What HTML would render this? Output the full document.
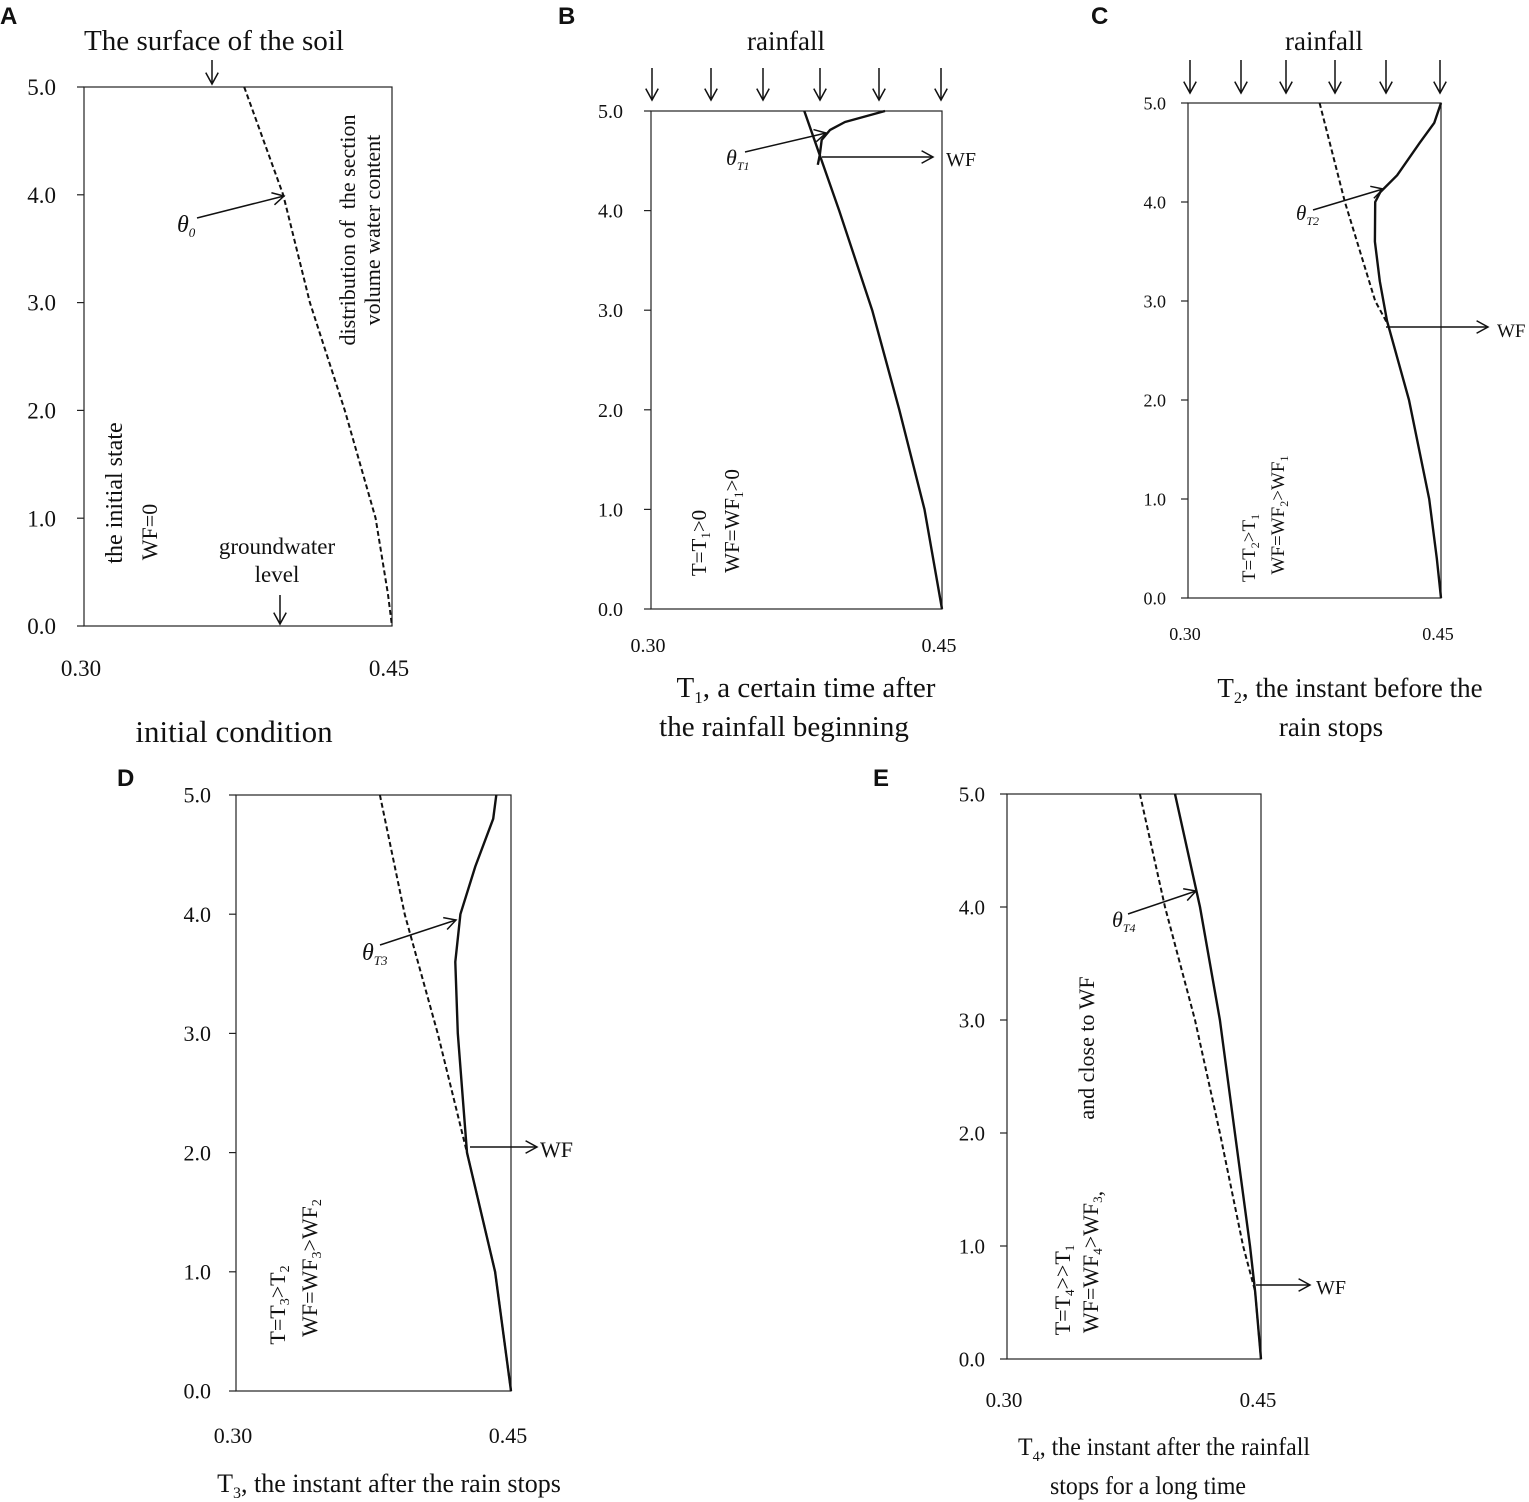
<!DOCTYPE html>
<html><head><meta charset="utf-8"><style>
body{margin:0;background:#fff}
svg{display:block}
text{font-family:"Liberation Serif",serif;fill:#111}
.lab{font-family:"Liberation Sans",sans-serif;font-weight:bold;font-size:24px}
</style></head><body>
<svg id="fig" width="1529" height="1502" viewBox="0 0 1529 1502"></svg>
<script>
// depth values (m) and volumetric water content values
const depthInitA = [5.0, 4.0, 3.0, 2.0, 1.0, 0.3, 0.0];
const thetaInitA = [0.378, 0.397, 0.410, 0.427, 0.442, 0.448, 0.450];
const depthInitB = [5.0, 4.0, 3.0, 2.0, 1.0, 0.0];
const thetaInitB = [0.379, 0.397, 0.414, 0.428, 0.441, 0.450];
const depthWetB = [5.0, 4.89, 4.81, 4.71, 4.56, 4.46];
const thetaWetB = [0.4206, 0.400, 0.3923, 0.388, 0.387, 0.386];
const depthInitC = [5.0, 4.0, 3.0, 2.78];
const thetaInitC = [0.378, 0.393, 0.411, 0.418];
const depthWetC = [5.0, 4.8, 4.6, 4.27, 4.1, 4.0, 3.6, 3.2, 2.8, 2.0, 1.0, 0.4, 0.0];
const thetaWetC = [0.450, 0.446, 0.4375, 0.424, 0.414, 0.411, 0.4108, 0.4137, 0.418, 0.431, 0.443, 0.4475, 0.450];
const depthInitD = [5.0, 4.0, 3.0, 2.0, 1.0, 0.0];
const thetaInitD = [0.3785, 0.392, 0.410, 0.426, 0.4413, 0.450];
const depthWetD = [5.0, 4.8, 4.4, 4.0, 3.6, 3.0, 2.4, 2.0, 1.0, 0.0];
const thetaWetD = [0.442, 0.4403, 0.4305, 0.4224, 0.4196, 0.421, 0.424, 0.426, 0.4413, 0.450];
const depthInitE = [5.0, 4.0, 3.0, 2.0, 1.0, 0.6, 0.0];
const thetaInitE = [0.3785, 0.3933, 0.411, 0.4257, 0.4394, 0.4465, 0.450];
const depthWetE = [5.0, 4.0, 3.0, 2.0, 1.0, 0.6, 0.0];
const thetaWetE = [0.3992, 0.414, 0.4257, 0.4346, 0.4435, 0.4465, 0.450];
const yTicks = [0, 1, 2, 3, 4, 5];
const xTickLabels = ["0.30", "0.45"];

const NS = "http://www.w3.org/2000/svg";
const svg = document.getElementById("fig");
function mk(tag, attrs, parent) {
  const e = document.createElementNS(NS, tag);
  for (const k in attrs) e.setAttribute(k, attrs[k]);
  (parent || svg).appendChild(e);
  return e;
}
function txt(x, y, s, size, parent, extra) {
  const t = mk("text", Object.assign({x: x, y: y, "font-size": size}, extra || {}), parent);
  t.innerHTML = s;
  return t;
}
function arrow(x1, y1, x2, y2, parent) {
  const g = mk("g", {}, parent);
  
  
  mk("line", {x1: x1, y1: y1, x2: x2, y2: y2, stroke: "#111", "stroke-width": 1.5}, g);
  const a = Math.atan2(y2 - y1, x2 - x1), L = 13, s = 0.5;
  const p = (ang) => (x2 - L * Math.cos(ang)) + "," + (y2 - L * Math.sin(ang));
  mk("polyline", {points: p(a - s) + " " + x2 + "," + y2 + " " + p(a + s), fill: "none", stroke: "#111", "stroke-width": 1.5}, g);
}

function panel(cfg) {
  const g = mk("g", {});
  
  
  const xs = v => cfg.x0 + (v - 0.30) / 0.15 * (cfg.x1 - cfg.x0);
  const ys = d => cfg.y1 - d / 5 * (cfg.y1 - cfg.y0);
  const box = mk("rect", {x: cfg.x0, y: cfg.y0, width: cfg.x1 - cfg.x0, height: cfg.y1 - cfg.y0, fill: "none", stroke: "#222", "stroke-width": 1.2}, g);
  
  
  yTicks.forEach(t => {
    const y = ys(t);
    mk("line", {x1: cfg.x0 - 7, x2: cfg.x0, y1: y, y2: y, stroke: "#222", "stroke-width": 1.2}, g);
    const tl = txt(cfg.x0 - cfg.lblOff, y + cfg.fs * 0.35, t.toFixed(1), cfg.fs, g, {"text-anchor": "end"});
    
    
  });
  [0.30, 0.45].forEach((v, i) => {
    const xl = txt(xs(v) - 3, cfg.y1 + cfg.xOff, xTickLabels[i], cfg.fs, g, {"text-anchor": "middle"});
    
    
  });
  cfg.series.forEach(s => {
    const pts = s.d.map((d, i) => xs(s.t[i]).toFixed(1) + "," + ys(d).toFixed(1)).join(" ");
    const pl = mk("polyline", {points: pts, fill: "none", stroke: "#111", "stroke-width": s.dash ? 2 : 2.4, "stroke-dasharray": s.dash ? "5,3" : "none", "stroke-linejoin": "round"}, g);
    
    
  });
  return g;
}

const gA = panel({name: "panel-a", x0: 84, x1: 392, y0: 87, y1: 626, fs: 23, lblOff: 28, xOff: 50,
  series: [{name: "initial-water-content-curve", d: depthInitA, t: thetaInitA, dash: true}]});
const gB = panel({name: "panel-b", x0: 651, x1: 942, y0: 111, y1: 609, fs: 20, lblOff: 28, xOff: 43,
  series: [{name: "initial-water-content-curve", d: depthInitB, t: thetaInitB, dash: false},
           {name: "wetting-curve-t1", d: depthWetB, t: thetaWetB, dash: false}]});
const gC = panel({name: "panel-c", x0: 1188, x1: 1441, y0: 103, y1: 598, fs: 18, lblOff: 22, xOff: 42,
  series: [{name: "initial-water-content-curve", d: depthInitC, t: thetaInitC, dash: true},
           {name: "wetting-curve-t2", d: depthWetC, t: thetaWetC, dash: false}]});
const gD = panel({name: "panel-d", x0: 236, x1: 511, y0: 795, y1: 1391, fs: 22, lblOff: 25, xOff: 52,
  series: [{name: "initial-water-content-curve", d: depthInitD, t: thetaInitD, dash: true},
           {name: "wetting-curve-t3", d: depthWetD, t: thetaWetD, dash: false}]});
const gE = panel({name: "panel-e", x0: 1007, x1: 1261, y0: 794, y1: 1359, fs: 21, lblOff: 22, xOff: 48,
  series: [{name: "initial-water-content-curve", d: depthInitE, t: thetaInitE, dash: true},
           {name: "wetting-curve-t4", d: depthWetE, t: thetaWetE, dash: false}]});

// panel letters
[["A", 0, 24], ["B", 558, 24], ["C", 1091, 24], ["D", 117, 786], ["E", 873, 786]].forEach(l => {
  const t = txt(l[1], l[2], l[0], 24, svg, {class: "lab"});
  
  
});

// Panel A annotations
txt(214, 50, "The surface of the soil", 28, gA, {"text-anchor": "middle", textLength: 260, lengthAdjust: "spacingAndGlyphs"});
arrow(212, 60, 212, 84, gA);
txt(177, 232, "θ<tspan font-size='13' dy='5'>0</tspan>", 24, gA, {"font-style": "italic"});
arrow(197, 218, 284, 196, gA);
txt(355, 230, "distribution of&#160;&#160;the section", 22, gA, {"text-anchor": "middle", transform: "rotate(-90 355 230)"});
txt(380, 230, "volume water content", 22, gA, {"text-anchor": "middle", transform: "rotate(-90 380 230)"});
txt(122, 493, "the initial state", 24, gA, {"text-anchor": "middle", transform: "rotate(-90 122 493)"});
txt(157, 532, "WF=0", 22, gA, {"text-anchor": "middle", transform: "rotate(-90 157 532)"});
txt(277, 554, "groundwater", 23, gA, {"text-anchor": "middle"});
txt(277, 582, "level", 23, gA, {"text-anchor": "middle"});
arrow(280, 595, 280, 624, gA);
txt(234, 742, "initial condition", 31, gA, {"text-anchor": "middle"});

// Panel B annotations
txt(786, 50, "rainfall", 27, gB, {"text-anchor": "middle"});
[652, 711, 763, 820, 879, 941].forEach(x => arrow(x, 68, x, 100, gB));
txt(726, 165, "θ<tspan font-size='12' dy='5'>T1</tspan>", 22, gB, {"font-style": "italic"});
arrow(745, 152, 826, 133, gB);
arrow(822, 157, 933, 157, gB);
txt(946, 166, "WF", 20, gB);
txt(706, 543, "T=T<tspan font-size='13' dy='4'>1</tspan><tspan dy='-4'>&gt;0</tspan>", 21, gB, {"text-anchor": "middle", transform: "rotate(-90 706 543)"});
txt(739, 521, "WF=WF<tspan font-size='13' dy='4'>1</tspan><tspan dy='-4'>&gt;0</tspan>", 21, gB, {"text-anchor": "middle", transform: "rotate(-90 739 521)"});
txt(806, 697, "T<tspan font-size='17' dy='6'>1</tspan><tspan dy='-6'>, a certain time after</tspan>", 29, gB, {"text-anchor": "middle"});
txt(784, 736, "the rainfall beginning", 29, gB, {"text-anchor": "middle"});

// Panel C annotations
txt(1324, 50, "rainfall", 27, gC, {"text-anchor": "middle"});
[1190, 1241, 1286, 1335, 1386, 1440].forEach(x => arrow(x, 60, x, 93, gC));
txt(1296, 220, "θ<tspan font-size='12' dy='5'>T2</tspan>", 21, gC, {"font-style": "italic"});
arrow(1313, 210, 1383, 189, gC);
arrow(1386, 327, 1488, 327, gC);
txt(1497, 337, "WF", 19, gC);
txt(1255, 548, "T=T<tspan font-size='12' dy='4'>2</tspan><tspan dy='-4'>&gt;T</tspan><tspan font-size='12' dy='4'>1</tspan>", 19, gC, {"text-anchor": "middle", transform: "rotate(-90 1255 548)"});
txt(1284, 515, "WF=WF<tspan font-size='12' dy='4'>2</tspan><tspan dy='-4'>&gt;WF</tspan><tspan font-size='12' dy='4'>1</tspan>", 19, gC, {"text-anchor": "middle", transform: "rotate(-90 1284 515)"});
txt(1350, 697, "T<tspan font-size='16' dy='6'>2</tspan><tspan dy='-6'>, the instant before the</tspan>", 27, gC, {"text-anchor": "middle"});
txt(1331, 736, "rain stops", 27, gC, {"text-anchor": "middle"});

// Panel D annotations
txt(362, 960, "θ<tspan font-size='13' dy='5'>T3</tspan>", 24, gD, {"font-style": "italic"});
arrow(380, 945, 456, 920, gD);
arrow(470, 1147, 537, 1147, gD);
txt(540, 1157, "WF", 22, gD);
txt(285, 1305, "T=T<tspan font-size='14' dy='4'>3</tspan><tspan dy='-4'>&gt;T</tspan><tspan font-size='14' dy='4'>2</tspan>", 22, gD, {"text-anchor": "middle", transform: "rotate(-90 285 1305)"});
txt(317, 1268, "WF=WF<tspan font-size='14' dy='4'>3</tspan><tspan dy='-4'>&gt;WF</tspan><tspan font-size='14' dy='4'>2</tspan>", 22, gD, {"text-anchor": "middle", transform: "rotate(-90 317 1268)"});
txt(389, 1492, "T<tspan font-size='16' dy='6'>3</tspan><tspan dy='-6'>, the instant after the rain stops</tspan>", 26, gD, {"text-anchor": "middle"});

// Panel E annotations
txt(1112, 927, "θ<tspan font-size='12' dy='5'>T4</tspan>", 22, gE, {"font-style": "italic"});
arrow(1128, 914, 1196, 891, gE);
arrow(1256, 1285, 1310, 1285, gE);
txt(1316, 1294, "WF", 20, gE);
txt(1094, 1048, "and close to WF", 22, gE, {"text-anchor": "middle", transform: "rotate(-90 1094 1048)"});
txt(1070, 1290, "T=T<tspan font-size='13' dy='4'>4</tspan><tspan dy='-4'>&gt;&gt;T</tspan><tspan font-size='13' dy='4'>1</tspan>", 22, gE, {"text-anchor": "middle", transform: "rotate(-90 1070 1290)"});
txt(1098, 1262, "WF=WF<tspan font-size='13' dy='4'>4</tspan><tspan dy='-4'>&gt;WF</tspan><tspan font-size='13' dy='4'>3</tspan><tspan>,</tspan>", 22, gE, {"text-anchor": "middle", transform: "rotate(-90 1098 1262)"});
txt(1164, 1455, "T<tspan font-size='15' dy='6'>4</tspan><tspan dy='-6'>, the instant after the rainfall</tspan>", 25, gE, {"text-anchor": "middle", textLength: 292, lengthAdjust: "spacingAndGlyphs"});
txt(1148, 1494, "stops for a long time", 25, gE, {"text-anchor": "middle", textLength: 196, lengthAdjust: "spacingAndGlyphs"});
</script>
</body></html>
